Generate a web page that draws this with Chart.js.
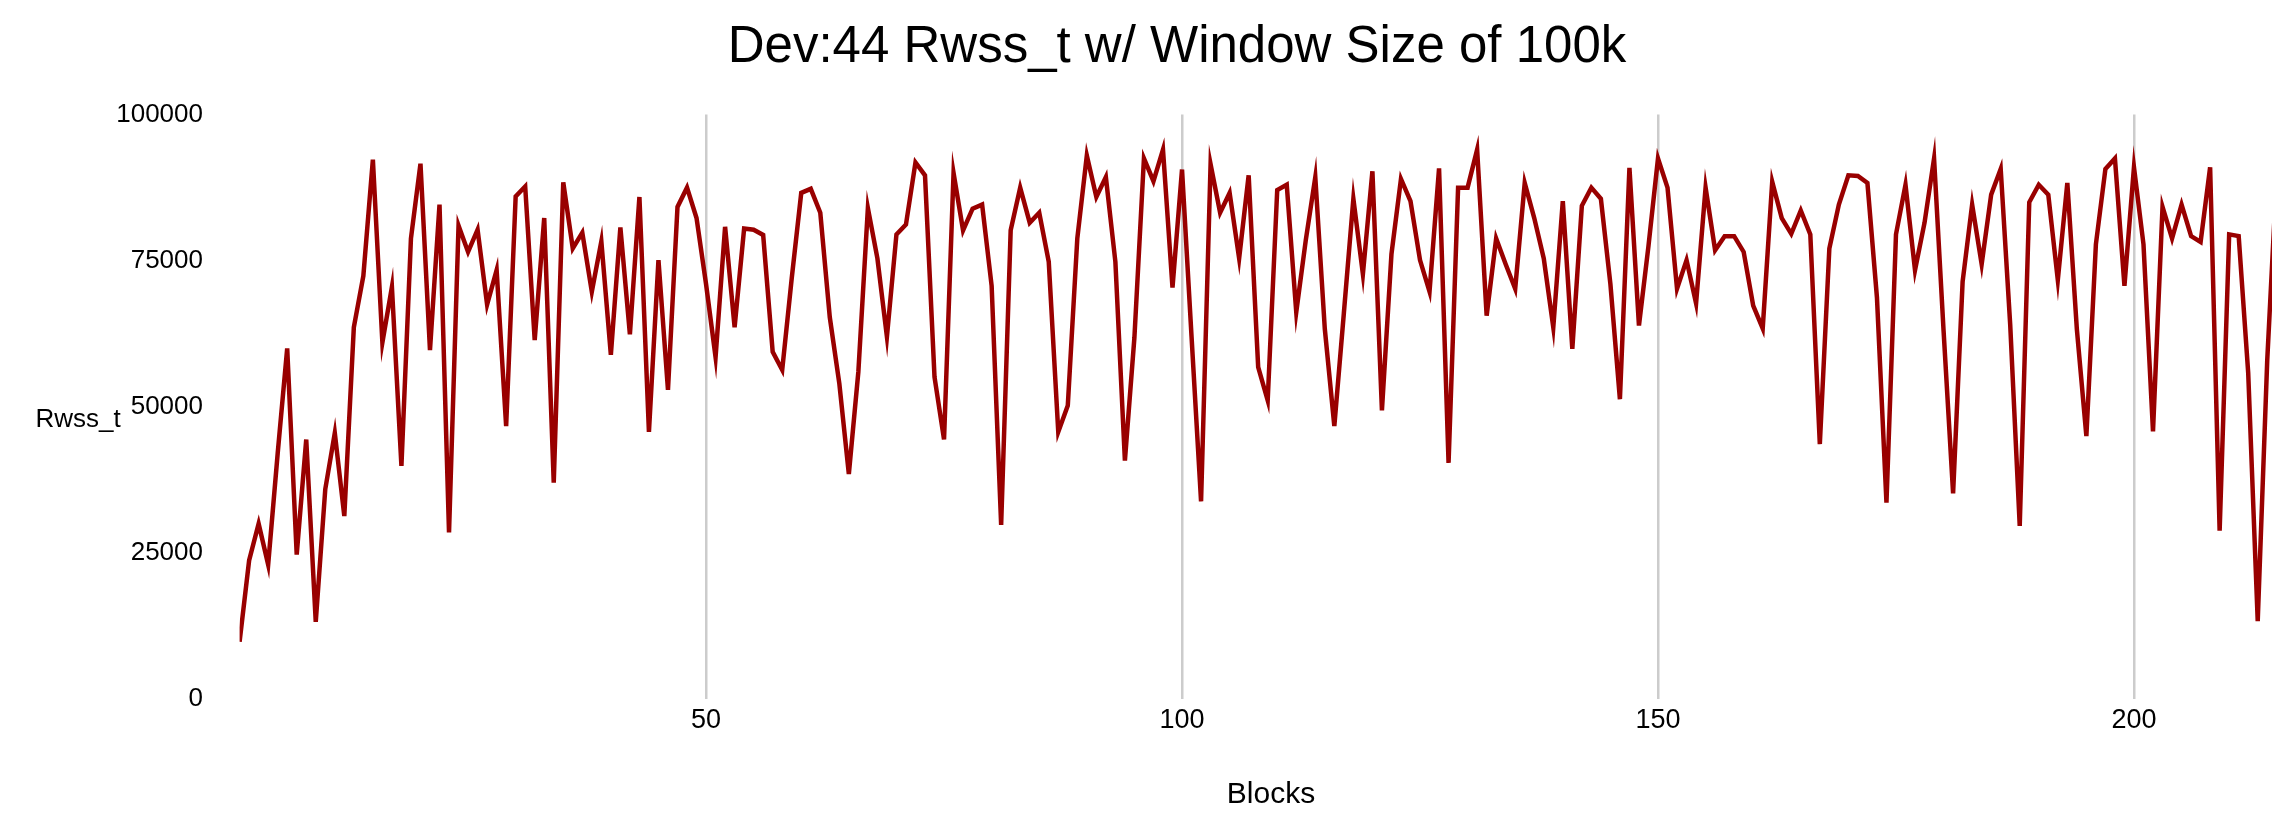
<!DOCTYPE html>
<html>
<head>
<meta charset="utf-8">
<script src="https://cdn.jsdelivr.net/npm/chart.js@4.4.1/dist/chart.umd.min.js"></script>
<style>
html,body{margin:0;padding:0;background:#ffffff;overflow:hidden}
#wrap{position:relative;width:2272px;height:814px}
</style>
</head>
<body>
<div id="wrap"><canvas id="c" width="2272" height="814"></canvas></div>
<script>
const chartTitle = "Dev:44 Rwss_t w/ Window Size of 100k";
const xAxisTitle = "Blocks";
const yAxisTitle = "Rwss_t";
const xTickValues = [50, 100, 150, 200];
const yTickValues = [0, 25000, 50000, 75000, 100000];
const rwssValues = [
  9800, 23700, 30000, 23000, 42000, 60000, 24700, 44400, 13200, 35900,
  45500, 31300, 63600, 72400, 92300, 61000, 70500, 39900, 78800, 91600,
  59700, 84600, 28500, 81000, 76500, 80300, 67500, 73400, 46700, 86000,
  87700, 61400, 82300, 37000, 88400, 77100, 79800, 69700, 78300, 58900,
  80700, 62400, 85900, 45700, 75100, 52900, 84200, 87500, 82300, 71000,
  58500, 80800, 63600, 80500, 80300, 79400, 59400, 56300, 72000, 86600,
  87300, 83200, 65300, 54000, 38500, 56000, 84000, 75400, 62000, 79500,
  81200, 91800, 89600, 55100, 44400, 90000, 80200, 83900, 84600, 70700,
  29800, 80200, 87500, 81500, 83200, 74800, 45700, 50200, 78800, 93000,
  85900, 89300, 74800, 40800, 61900, 92500, 88600, 94000, 70400, 90600,
  62000, 33800, 91500, 83200, 86600, 75400, 89600, 56800, 51100, 87100,
  88000, 66200, 78500, 89300, 63300, 46700, 66000, 85600, 72700, 90300,
  49400, 76100, 89000, 85200, 75100, 69700, 90800, 40400, 87500, 87500,
  94000, 65600, 78800, 74400, 70200, 88300, 82300, 75400, 63600, 85200,
  59900, 84400, 87500, 85600, 71000, 51300, 90900, 63900, 77500, 92500,
  87500, 70200, 75100, 67700, 87500, 76800, 79200, 79200, 76500, 67300,
  63400, 88500, 82300, 79600, 83600, 79500, 43600, 77100, 84600, 89600,
  89500, 88300, 68700, 33600, 79500, 88000, 73400, 81500, 92500, 63000,
  35200, 71400, 84600, 74400, 86300, 90700, 64000, 29600, 85000, 88000,
  86300, 71700, 88300, 63300, 45000, 77800, 90700, 92500, 70700, 91000,
  77800, 45800, 84200, 78800, 84600, 79200, 78200, 91000, 28800, 79500,
  79200, 55800, 13300, 58000, 90000
];
const blocks = rwssValues.map((_, i) => i + 1);

const FONT = '"Liberation Sans", Arial, Helvetica, sans-serif';

const textPlugin = {
  id: 'extraTexts',
  afterDraw(chart) {
    const ctx = chart.ctx;
    ctx.save();
    ctx.fillStyle = '#000000';
    ctx.textAlign = 'center';
    ctx.textBaseline = 'middle';
    ctx.font = '51px ' + FONT;
    ctx.fillText(chartTitle, 1177, 48);
    ctx.font = '30px ' + FONT;
    ctx.fillText(xAxisTitle, 1271, 795);
    ctx.font = '26px ' + FONT;
    ctx.fillText(yAxisTitle, 78, 420);
    ctx.restore();
  }
};

new Chart(document.getElementById('c'), {
  type: 'line',
  data: {
    datasets: [{
      label: yAxisTitle,
      data: blocks.map((b, i) => ({ x: b, y: rwssValues[i] })),
      borderColor: '#990000',
      backgroundColor: '#990000',
      borderWidth: 4.5,
      pointRadius: 0,
      tension: 0,
      fill: false
    }]
  },
  options: {
    responsive: false,
    animation: false,
    devicePixelRatio: 1,
    layout: { padding: { top: 114.6, left: 0, right: 0, bottom: 72.6 } },
    plugins: {
      legend: { display: false },
      title: { display: false },
      tooltip: { enabled: false }
    },
    scales: {
      x: {
        type: 'linear',
        min: 1,
        max: 214.5,
        afterBuildTicks: (s) => { s.ticks = xTickValues.map(v => ({ value: v })); },
        grid: { display: true, color: '#cccccc', lineWidth: 2.5, drawTicks: false },
        border: { display: false },
        ticks: {
          font: { family: FONT, size: 27 },
          color: '#000000',
          padding: 5,
          maxRotation: 0,
          autoSkip: false,
          callback: (v) => String(v)
        },
        title: { display: false, text: xAxisTitle }
      },
      y: {
        type: 'linear',
        min: 0,
        max: 100000,
        afterBuildTicks: (s) => { s.ticks = yTickValues.map(v => ({ value: v })); },
        afterFit: (s) => { s.width = 239.6; },
        grid: { display: false, drawTicks: false },
        border: { display: false },
        ticks: {
          font: { family: FONT, size: 26 },
          color: '#000000',
          padding: 36.6,
          autoSkip: false,
          callback: (v) => String(v)
        }
      }
    }
  },
  plugins: [textPlugin]
});
</script>
</body>
</html>
